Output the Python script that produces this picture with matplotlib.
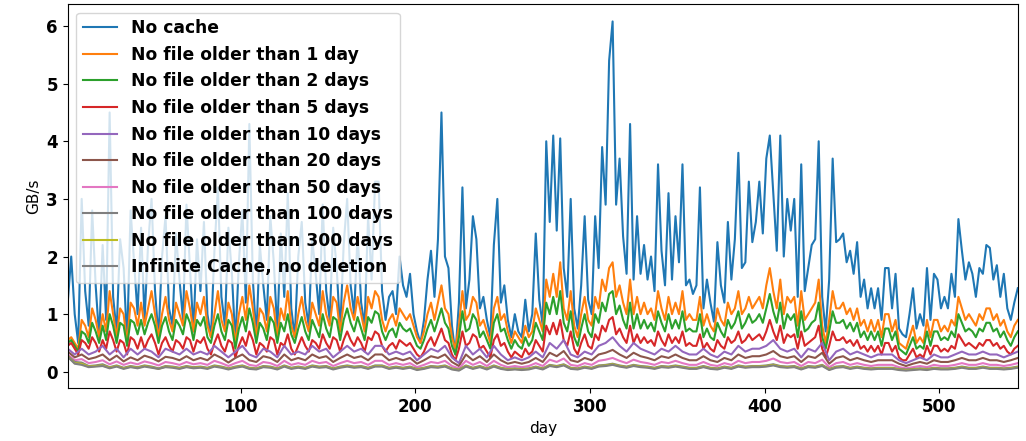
import numpy as np
import matplotlib
matplotlib.use("Agg")
import matplotlib.pyplot as plt

# daily samples: every 2nd day for the top series,
# every 4th day for the flat ones near zero
days_fine = np.arange(1, 546, 2)
days_coarse = np.arange(1, 546, 4)

labels = [
    "No cache",
    "No file older than 1 day",
    "No file older than 2 days",
    "No file older than 5 days",
    "No file older than 10 days",
    "No file older than 20 days",
    "No file older than 50 days",
    "No file older than 100 days",
    "No file older than 300 days",
    "Infinite Cache, no deletion",
]

no_cache = [
    1.2, 2.0, 1.0, 0.5, 3.0, 1.4, 0.8, 2.8, 1.5, 0.6,
    2.2, 0.9, 4.5, 1.3, 0.7, 2.3, 1.8, 0.5, 2.8, 1.9,
    1.0, 2.5, 0.9, 2.2, 3.0, 1.4, 0.6, 2.0, 2.7, 1.1,
    0.8, 2.4, 1.6, 0.9, 2.9, 1.8, 0.7, 2.3, 1.4, 2.6,
    1.0, 0.6, 2.1, 3.2, 1.3, 0.8, 2.5, 1.7, 0.5, 1.9,
    2.8, 1.2, 4.3, 1.6, 0.6, 2.2, 1.5, 0.9, 2.7, 1.9,
    0.7, 2.4, 1.3, 3.1, 1.1, 0.6, 2.0, 2.6, 1.2, 0.8,
    2.3, 1.7, 1.0, 2.9, 1.4, 0.9, 2.5, 1.8, 0.7, 2.2,
    3.0, 1.5, 1.0, 2.4, 1.2, 0.8, 2.7, 1.6, 3.3, 3.3,
    1.4, 0.9, 1.3, 1.4, 1.0, 2.0, 1.5, 1.3, 1.7, 1.0,
    0.7, 0.5, 0.9, 1.6, 2.1, 1.3, 2.3, 4.5, 2.0, 1.8,
    0.8, 0.3, 1.2, 3.2, 1.1, 1.6, 2.7, 2.3, 1.1, 1.3,
    0.9, 0.6, 2.2, 3.0, 1.2, 1.5, 0.9, 0.6, 1.0, 0.7,
    0.6, 1.25, 0.7, 1.0, 2.4, 1.25, 0.8, 4.0, 2.6, 4.1,
    2.45, 4.05, 1.8, 1.3, 3.0, 1.1, 0.75, 1.5, 2.7, 1.25,
    1.0, 2.7, 1.8, 3.9, 2.9, 5.4, 6.08, 2.9, 3.7, 2.35,
    1.7, 4.3, 1.6, 2.7, 1.7, 2.2, 1.6, 2.0, 1.4, 3.6,
    2.1, 1.5, 3.1, 1.6, 2.7, 1.9, 3.6, 1.5, 1.6, 1.35,
    1.5, 3.2, 1.1, 1.6, 1.2, 0.87, 2.25, 1.5, 1.2, 2.6,
    1.6, 2.3, 3.8, 1.8, 1.9, 3.3, 2.25, 2.6, 3.3, 2.4,
    3.7, 4.1, 3.1, 2.1, 4.1, 2.0, 3.0, 2.45, 3.0, 1.3,
    3.6, 1.4, 1.8, 2.2, 2.3, 4.0, 1.3, 0.7, 1.6, 3.7,
    2.25, 2.3, 2.4, 1.9, 2.1, 1.7, 2.25, 1.3, 1.6, 1.1,
    1.45, 1.1, 1.45, 0.9, 1.8, 1.8, 1.1, 1.7, 0.75, 0.65,
    0.6, 1.0, 1.45, 0.75, 1.0, 0.8, 1.8, 0.9, 1.7, 1.6,
    1.1, 1.3, 1.1, 1.7, 1.3, 2.65, 2.1, 1.6, 1.9, 1.7,
    1.3, 1.8, 1.7, 2.2, 2.15, 1.6, 1.85, 1.3, 1.7, 1.1,
    0.9, 1.2, 1.45,
]

older_1 = [
    0.55, 0.6, 0.5, 0.4, 0.9, 0.8, 0.6, 1.1, 0.9, 0.6,
    1.0, 0.7, 1.4, 1.0, 0.6, 1.1, 1.0, 0.5, 1.2, 1.1,
    0.8, 1.2, 0.8, 1.1, 1.4, 1.0, 0.6, 1.0, 1.3, 0.9,
    0.7, 1.2, 1.0, 0.8, 1.4, 1.1, 0.7, 1.2, 1.0, 1.3,
    0.8, 0.6, 1.0, 1.4, 0.9, 0.7, 1.2, 1.0, 0.5, 1.0,
    1.3, 0.9, 1.5, 1.1, 0.6, 1.1, 1.0, 0.7, 1.3, 1.1,
    0.6, 1.1, 0.9, 1.4, 0.8, 0.6, 1.0, 1.3, 0.9, 0.7,
    1.2, 1.0, 0.8, 1.4, 1.0, 0.8, 1.3, 1.2, 0.7, 1.2,
    1.5, 1.1, 0.9, 1.3, 1.0, 0.7, 1.3, 1.1, 1.4, 1.3,
    0.9, 0.7, 0.9, 1.0, 0.8, 1.1, 1.0, 0.9, 1.0, 0.8,
    0.6, 0.5, 0.7, 1.0, 1.2, 0.9, 1.2, 1.5, 1.1, 1.0,
    0.6, 0.4, 0.8, 1.4, 0.9, 1.0, 1.3, 1.2, 0.8, 0.9,
    0.7, 0.5, 1.1, 1.3, 0.9, 1.0, 0.7, 0.5, 0.7, 0.6,
    0.5, 0.8, 0.6, 0.7, 1.1, 0.9, 0.7, 1.6, 1.3, 1.7,
    1.3, 1.9, 1.1, 0.9, 1.4, 0.8, 0.6, 1.0, 1.3, 0.9,
    0.8, 1.3, 1.1, 1.6, 1.4, 1.8, 1.9, 1.3, 1.5, 1.2,
    1.0, 1.6, 1.0, 1.3, 1.0, 1.2, 1.0, 1.1, 0.9, 1.4,
    1.1, 0.9, 1.3, 1.0, 1.2, 1.0, 1.4, 0.9, 1.0, 0.9,
    0.9, 1.3, 0.8, 1.0, 0.8, 0.7, 1.1, 0.9, 0.8, 1.2,
    1.0, 1.1, 1.4, 1.0, 1.1, 1.3, 1.1, 1.2, 1.3, 1.1,
    1.5, 1.8, 1.4, 1.1, 1.6, 1.0, 1.3, 1.2, 1.3, 0.8,
    1.4, 0.9, 1.0, 1.1, 1.2, 1.6, 0.8, 0.5, 0.9, 1.4,
    1.1, 1.1, 1.2, 1.0, 1.1, 0.9, 1.1, 0.8, 0.9, 0.7,
    0.9, 0.7, 0.9, 0.6, 1.0, 1.0, 0.7, 0.9, 0.5, 0.45,
    0.4, 0.6, 0.8, 0.5, 0.6, 0.5, 0.9, 0.6, 0.9, 0.9,
    0.7, 0.8, 0.7, 0.9, 0.8, 1.3, 1.1, 0.9, 1.0, 0.9,
    0.8, 1.0, 0.9, 1.1, 1.1, 0.9, 1.0, 0.8, 0.9, 0.7,
    0.6, 0.8, 0.9,
]

older_2 = [
    0.5, 0.55, 0.45, 0.35, 0.7, 0.65, 0.5, 0.85, 0.7, 0.5,
    0.8, 0.55, 1.0, 0.8, 0.5, 0.85, 0.8, 0.45, 0.9, 0.85,
    0.65, 0.9, 0.65, 0.85, 1.0, 0.8, 0.5, 0.8, 0.95, 0.7,
    0.55, 0.9, 0.8, 0.65, 1.0, 0.85, 0.55, 0.9, 0.8, 0.95,
    0.6, 0.5, 0.8, 1.0, 0.7, 0.55, 0.9, 0.8, 0.4, 0.75,
    0.95, 0.7, 1.1, 0.85, 0.5, 0.85, 0.75, 0.55, 0.95, 0.85,
    0.5, 0.85, 0.7, 1.0, 0.65, 0.5, 0.75, 0.95, 0.7, 0.55,
    0.9, 0.75, 0.6, 1.0, 0.75, 0.6, 0.95, 0.9, 0.55, 0.9,
    1.1, 0.85, 0.7, 0.95, 0.75, 0.55, 0.95, 0.85, 1.05, 1.0,
    0.7, 0.55, 0.7, 0.75, 0.6, 0.85, 0.75, 0.7, 0.75, 0.6,
    0.45, 0.4, 0.55, 0.75, 0.9, 0.7, 0.9, 1.1, 0.85, 0.75,
    0.45, 0.3, 0.6, 1.05, 0.7, 0.75, 1.0, 0.9, 0.6, 0.7,
    0.55, 0.4, 0.85, 1.0, 0.7, 0.75, 0.55, 0.4, 0.55, 0.45,
    0.4, 0.6, 0.45, 0.55, 0.85, 0.7, 0.55, 1.2, 1.0, 1.3,
    1.0, 1.4, 0.85, 0.7, 1.05, 0.6, 0.45, 0.75, 1.0, 0.7,
    0.6, 1.0, 0.85, 1.2, 1.05, 1.35, 1.4, 1.0, 1.15, 0.9,
    0.75, 1.2, 0.75, 1.0, 0.75, 0.9, 0.75, 0.85, 0.7, 1.05,
    0.85, 0.7, 1.0, 0.75, 0.9, 0.75, 1.05, 0.7, 0.75, 0.7,
    0.7, 1.0, 0.6, 0.75, 0.6, 0.55, 0.85, 0.7, 0.6, 0.9,
    0.75, 0.85, 1.05, 0.75, 0.85, 1.0, 0.85, 0.9, 1.0, 0.85,
    1.1, 1.35, 1.05, 0.85, 1.2, 0.75, 1.0, 0.9, 1.0, 0.6,
    1.05, 0.7, 0.75, 0.85, 0.9, 1.2, 0.6, 0.4, 0.7, 1.05,
    0.85, 0.85, 0.9, 0.75, 0.85, 0.7, 0.85, 0.6, 0.7, 0.55,
    0.7, 0.55, 0.7, 0.45, 0.75, 0.75, 0.55, 0.7, 0.4, 0.35,
    0.3, 0.45, 0.6, 0.4, 0.45, 0.4, 0.7, 0.45, 0.7, 0.7,
    0.55, 0.6, 0.55, 0.7, 0.6, 1.0, 0.85, 0.7, 0.75, 0.7,
    0.6, 0.75, 0.7, 0.85, 0.85, 0.7, 0.75, 0.6, 0.7, 0.55,
    0.45, 0.6, 0.7,
]

older_5 = [
    0.45, 0.5, 0.4, 0.3, 0.55, 0.5, 0.4, 0.6, 0.5, 0.35,
    0.55, 0.4, 0.7, 0.55, 0.35, 0.55, 0.5, 0.3, 0.6, 0.55,
    0.4, 0.6, 0.4, 0.55, 0.65, 0.5, 0.3, 0.5, 0.6, 0.45,
    0.35, 0.55, 0.5, 0.4, 0.6, 0.55, 0.35, 0.55, 0.5, 0.6,
    0.4, 0.3, 0.5, 0.65, 0.45, 0.35, 0.55, 0.5, 0.25, 0.45,
    0.6, 0.45, 0.7, 0.55, 0.3, 0.5, 0.45, 0.35, 0.6, 0.55,
    0.3, 0.5, 0.45, 0.65, 0.4, 0.3, 0.45, 0.6, 0.45, 0.35,
    0.55, 0.5, 0.4, 0.65, 0.5, 0.4, 0.6, 0.55, 0.35, 0.55,
    0.7, 0.55, 0.45, 0.6, 0.5, 0.35, 0.6, 0.55, 0.7, 0.65,
    0.45, 0.35, 0.45, 0.5, 0.4, 0.55, 0.5, 0.45, 0.5, 0.4,
    0.3, 0.25, 0.35, 0.5, 0.6, 0.45, 0.6, 0.75, 0.55, 0.5,
    0.3, 0.2, 0.4, 0.7, 0.45, 0.5, 0.65, 0.6, 0.4, 0.45,
    0.35, 0.25, 0.55, 0.65, 0.45, 0.5, 0.35, 0.25, 0.35, 0.3,
    0.25, 0.4, 0.3, 0.35, 0.55, 0.45, 0.35, 0.8, 0.65, 0.85,
    0.65, 0.9, 0.55, 0.45, 0.7, 0.4, 0.3, 0.5, 0.65, 0.45,
    0.4, 0.65, 0.55, 0.8, 0.7, 0.9, 0.95, 0.65, 0.75, 0.6,
    0.5, 0.8, 0.5, 0.65, 0.5, 0.6, 0.5, 0.55, 0.45, 0.7,
    0.55, 0.45, 0.65, 0.5, 0.6, 0.5, 0.7, 0.45, 0.5, 0.45,
    0.45, 0.65, 0.4, 0.5, 0.4, 0.35, 0.55, 0.45, 0.4, 0.6,
    0.5, 0.55, 0.7, 0.5, 0.55, 0.65, 0.55, 0.6, 0.65, 0.55,
    0.7, 0.9, 0.7, 0.55, 0.8, 0.5, 0.65, 0.6, 0.65, 0.4,
    0.7, 0.45, 0.5, 0.55, 0.6, 0.8, 0.4, 0.25, 0.45, 0.7,
    0.55, 0.55, 0.6, 0.5, 0.55, 0.45, 0.55, 0.4, 0.45, 0.35,
    0.45, 0.35, 0.45, 0.3, 0.5, 0.5, 0.35, 0.45, 0.25, 0.2,
    0.2, 0.3, 0.4, 0.25, 0.3, 0.25, 0.45, 0.3, 0.45, 0.45,
    0.35, 0.4, 0.35, 0.45, 0.4, 0.65, 0.55, 0.45, 0.5, 0.45,
    0.4, 0.5, 0.45, 0.55, 0.55, 0.45, 0.5, 0.4, 0.45, 0.35,
    0.3, 0.4, 0.45,
]

older_10 = [
    0.4, 0.3, 0.4, 0.3, 0.35, 0.45, 0.3, 0.4, 0.25, 0.4,
    0.3, 0.4, 0.35, 0.25, 0.4, 0.35, 0.3, 0.4, 0.3, 0.35,
    0.3, 0.45, 0.35, 0.25, 0.35, 0.45, 0.3, 0.25, 0.4, 0.35,
    0.25, 0.45, 0.3, 0.35, 0.3, 0.45, 0.35, 0.4, 0.25, 0.35,
    0.45, 0.35, 0.4, 0.3, 0.45, 0.45, 0.3, 0.35, 0.3, 0.35,
    0.2, 0.3, 0.4, 0.35, 0.45, 0.25, 0.15, 0.45, 0.3, 0.4,
    0.25, 0.45, 0.3, 0.2, 0.25, 0.2, 0.25, 0.35, 0.25, 0.5,
    0.4, 0.55, 0.3, 0.25, 0.35, 0.3, 0.45, 0.5, 0.6, 0.45,
    0.35, 0.5, 0.4, 0.35, 0.3, 0.4, 0.35, 0.45, 0.35, 0.3,
    0.3, 0.4, 0.3, 0.25, 0.35, 0.3, 0.45, 0.35, 0.4, 0.4,
    0.45, 0.55, 0.4, 0.35, 0.4, 0.25, 0.4, 0.35, 0.5, 0.2,
    0.35, 0.4, 0.3, 0.35, 0.3, 0.25, 0.3, 0.3, 0.3, 0.2,
    0.15, 0.2, 0.25, 0.2, 0.3, 0.25, 0.25, 0.3, 0.35, 0.3,
    0.3, 0.35, 0.3, 0.3, 0.25, 0.3, 0.35,
]

older_20 = [
    0.35, 0.25, 0.3, 0.22, 0.25, 0.3, 0.2, 0.28, 0.18, 0.25,
    0.2, 0.28, 0.24, 0.18, 0.26, 0.24, 0.2, 0.27, 0.2, 0.24,
    0.2, 0.3, 0.24, 0.16, 0.24, 0.3, 0.2, 0.17, 0.27, 0.24,
    0.17, 0.3, 0.2, 0.24, 0.2, 0.3, 0.24, 0.27, 0.17, 0.24,
    0.3, 0.24, 0.27, 0.2, 0.3, 0.3, 0.2, 0.24, 0.2, 0.24,
    0.14, 0.2, 0.27, 0.24, 0.3, 0.17, 0.1, 0.3, 0.2, 0.27,
    0.17, 0.3, 0.2, 0.14, 0.17, 0.14, 0.17, 0.24, 0.17, 0.33,
    0.27, 0.36, 0.2, 0.17, 0.24, 0.2, 0.3, 0.33, 0.38, 0.3,
    0.24, 0.33, 0.27, 0.24, 0.2, 0.27, 0.24, 0.3, 0.24, 0.2,
    0.2, 0.27, 0.2, 0.17, 0.24, 0.2, 0.3, 0.24, 0.27, 0.27,
    0.3, 0.36, 0.27, 0.24, 0.27, 0.17, 0.27, 0.24, 0.33, 0.14,
    0.24, 0.27, 0.2, 0.24, 0.2, 0.17, 0.2, 0.2, 0.2, 0.14,
    0.1, 0.14, 0.17, 0.14, 0.2, 0.17, 0.17, 0.2, 0.24, 0.2,
    0.2, 0.24, 0.2, 0.2, 0.17, 0.2, 0.24,
]

older_50 = [
    0.3, 0.2, 0.22, 0.15, 0.17, 0.2, 0.13, 0.18, 0.12, 0.16,
    0.13, 0.18, 0.15, 0.11, 0.17, 0.15, 0.12, 0.17, 0.13, 0.15,
    0.12, 0.19, 0.15, 0.1, 0.15, 0.19, 0.12, 0.1, 0.17, 0.15,
    0.1, 0.19, 0.12, 0.15, 0.12, 0.19, 0.15, 0.17, 0.1, 0.15,
    0.19, 0.15, 0.17, 0.12, 0.19, 0.19, 0.12, 0.15, 0.12, 0.15,
    0.08, 0.12, 0.17, 0.15, 0.19, 0.1, 0.06, 0.19, 0.12, 0.17,
    0.1, 0.19, 0.12, 0.08, 0.1, 0.08, 0.1, 0.15, 0.1, 0.21,
    0.17, 0.23, 0.12, 0.1, 0.15, 0.12, 0.19, 0.21, 0.24, 0.19,
    0.15, 0.21, 0.17, 0.15, 0.12, 0.17, 0.15, 0.19, 0.15, 0.12,
    0.12, 0.17, 0.12, 0.1, 0.15, 0.12, 0.19, 0.15, 0.17, 0.17,
    0.19, 0.23, 0.17, 0.15, 0.17, 0.1, 0.17, 0.15, 0.21, 0.08,
    0.15, 0.17, 0.12, 0.15, 0.12, 0.1, 0.12, 0.12, 0.12, 0.08,
    0.06, 0.08, 0.1, 0.08, 0.12, 0.1, 0.1, 0.12, 0.15, 0.12,
    0.12, 0.15, 0.12, 0.12, 0.1, 0.12, 0.15,
]

older_100 = [
    0.28, 0.17, 0.16, 0.1, 0.11, 0.13, 0.08, 0.11, 0.07, 0.1,
    0.08, 0.11, 0.09, 0.06, 0.1, 0.09, 0.07, 0.1, 0.08, 0.09,
    0.07, 0.11, 0.09, 0.06, 0.09, 0.11, 0.07, 0.06, 0.1, 0.09,
    0.06, 0.11, 0.07, 0.09, 0.07, 0.11, 0.09, 0.1, 0.06, 0.09,
    0.11, 0.09, 0.1, 0.07, 0.11, 0.11, 0.07, 0.09, 0.07, 0.09,
    0.05, 0.07, 0.1, 0.09, 0.11, 0.06, 0.04, 0.11, 0.07, 0.1,
    0.06, 0.11, 0.07, 0.05, 0.06, 0.05, 0.06, 0.09, 0.06, 0.12,
    0.1, 0.13, 0.07, 0.06, 0.09, 0.07, 0.11, 0.12, 0.14, 0.11,
    0.09, 0.12, 0.1, 0.09, 0.07, 0.1, 0.09, 0.11, 0.09, 0.07,
    0.07, 0.1, 0.07, 0.06, 0.09, 0.07, 0.11, 0.09, 0.1, 0.1,
    0.11, 0.13, 0.1, 0.09, 0.1, 0.06, 0.1, 0.09, 0.12, 0.05,
    0.09, 0.1, 0.07, 0.09, 0.07, 0.06, 0.07, 0.07, 0.07, 0.05,
    0.04, 0.05, 0.06, 0.05, 0.07, 0.06, 0.06, 0.07, 0.09, 0.07,
    0.07, 0.09, 0.07, 0.07, 0.06, 0.07, 0.09,
]

older_300 = [
    0.27, 0.15, 0.14, 0.09, 0.1, 0.11, 0.07, 0.1, 0.06, 0.09,
    0.07, 0.1, 0.08, 0.05, 0.09, 0.08, 0.06, 0.09, 0.07, 0.08,
    0.06, 0.1, 0.08, 0.05, 0.08, 0.1, 0.06, 0.05, 0.09, 0.08,
    0.05, 0.1, 0.06, 0.08, 0.06, 0.1, 0.08, 0.09, 0.05, 0.08,
    0.1, 0.08, 0.09, 0.06, 0.1, 0.1, 0.06, 0.08, 0.06, 0.08,
    0.04, 0.06, 0.09, 0.08, 0.1, 0.05, 0.03, 0.1, 0.06, 0.09,
    0.05, 0.1, 0.06, 0.04, 0.05, 0.04, 0.05, 0.08, 0.05, 0.11,
    0.09, 0.12, 0.06, 0.05, 0.08, 0.06, 0.1, 0.11, 0.13, 0.1,
    0.08, 0.11, 0.09, 0.08, 0.06, 0.09, 0.08, 0.1, 0.08, 0.06,
    0.06, 0.09, 0.06, 0.05, 0.08, 0.06, 0.1, 0.08, 0.09, 0.09,
    0.1, 0.12, 0.09, 0.08, 0.09, 0.05, 0.09, 0.08, 0.11, 0.04,
    0.08, 0.09, 0.06, 0.08, 0.06, 0.05, 0.06, 0.06, 0.06, 0.04,
    0.03, 0.04, 0.05, 0.04, 0.06, 0.05, 0.05, 0.06, 0.08, 0.06,
    0.06, 0.08, 0.06, 0.06, 0.05, 0.06, 0.08,
]

infinite = [
    0.26, 0.14, 0.12, 0.08, 0.09, 0.1, 0.06, 0.09, 0.05, 0.08,
    0.06, 0.09, 0.07, 0.05, 0.08, 0.07, 0.05, 0.08, 0.06, 0.07,
    0.05, 0.09, 0.07, 0.04, 0.07, 0.09, 0.05, 0.04, 0.08, 0.07,
    0.04, 0.09, 0.05, 0.07, 0.05, 0.09, 0.07, 0.08, 0.04, 0.07,
    0.09, 0.07, 0.08, 0.05, 0.09, 0.09, 0.05, 0.07, 0.05, 0.07,
    0.03, 0.05, 0.08, 0.07, 0.09, 0.04, 0.02, 0.09, 0.05, 0.08,
    0.04, 0.09, 0.05, 0.03, 0.04, 0.03, 0.04, 0.07, 0.04, 0.1,
    0.08, 0.11, 0.05, 0.04, 0.07, 0.05, 0.09, 0.1, 0.12, 0.09,
    0.07, 0.1, 0.08, 0.07, 0.05, 0.08, 0.07, 0.09, 0.07, 0.05,
    0.05, 0.08, 0.05, 0.04, 0.07, 0.05, 0.09, 0.07, 0.08, 0.08,
    0.09, 0.11, 0.08, 0.07, 0.08, 0.04, 0.08, 0.07, 0.1, 0.03,
    0.07, 0.08, 0.05, 0.07, 0.05, 0.04, 0.05, 0.05, 0.05, 0.03,
    0.02, 0.03, 0.04, 0.03, 0.05, 0.04, 0.04, 0.05, 0.07, 0.05,
    0.05, 0.07, 0.05, 0.05, 0.04, 0.05, 0.07,
]

colors = ["tab:blue", "tab:orange", "tab:green", "tab:red", "tab:purple",
          "tab:brown", "tab:pink", "tab:gray", "tab:olive", "gray"]


def main():
    series = [
        (days_fine, no_cache), (days_fine, older_1), (days_fine, older_2),
        (days_fine, older_5), (days_coarse, older_10), (days_coarse, older_20),
        (days_coarse, older_50), (days_coarse, older_100),
        (days_coarse, older_300), (days_coarse, infinite),
    ]
    fig = plt.figure(figsize=(10.26, 4.41), dpi=100)
    ax = fig.add_axes([0.066, 0.12, 0.926, 0.871])
    for (x, y), lab, c in zip(series, labels, colors):
        ax.plot(x, y, color=c, lw=1.5, label=lab)

    ax.set_xlim(days_fine[0], days_fine[-1])
    ax.set_xlabel("day", fontsize=11)
    ax.set_ylabel("GB/s", fontsize=11)
    for t in ax.get_xticklabels() + ax.get_yticklabels():
        t.set_fontweight("bold")
        t.set_fontsize(12)
    ax.legend(loc="upper left", prop={"weight": "bold", "size": 12.3})
    fig.savefig("out.png", dpi=100)


if __name__ == "__main__":
    main()
